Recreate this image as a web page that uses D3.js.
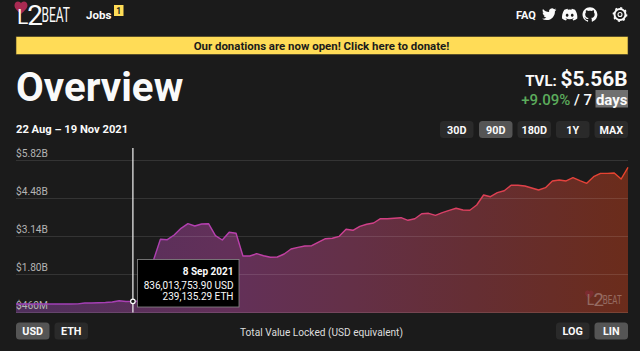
<!DOCTYPE html>
<html><head><meta charset="utf-8">
<script src="https://cdn.jsdelivr.net/npm/d3@7"></script>
<style>
html,body{margin:0;padding:0;background:#1b1b1b;overflow:hidden}
svg{display:block;font-family:Roboto,sans-serif}
text{fill:#fafafa}
</style></head><body><svg id="c" width="640" height="351"></svg>
<script>
// TVL in billions USD, one reading per day from 22 Aug 2021 to 19 Nov 2021
const tvl = [0.742,0.742,0.742,0.742,0.742,0.742,0.742,0.74,0.742,0.745,0.777,0.777,0.784,0.795,0.813,0.855,0.83,0.836,
0.848,1.412,2.294,3.024,3.01,3.175,3.41,3.574,3.493,3.563,3.574,3.151,3.0,3.27,3.235,2.435,2.435,2.516,2.445,2.389,2.4,2.505,
2.682,2.741,2.787,2.798,2.928,3.045,3.059,3.129,3.376,3.341,3.482,3.553,3.598,3.75,3.746,3.764,3.785,3.694,3.75,3.926,
3.94,3.87,3.962,4.046,4.117,4.057,4.046,4.233,4.586,4.526,4.667,4.737,4.928,4.928,4.903,4.833,4.762,4.843,5.08,5.115,
5.08,5.196,5.09,4.998,5.231,5.35,5.35,5.362,5.15,5.56];
const startDay = new Date(Date.UTC(2021,7,22));
const endDay = new Date(Date.UTC(2021,10,19));
const days = d3.utcDay.range(startDay, d3.utcDay.offset(endDay,1));
const yTicks = [0.46,1.80,3.14,4.48,5.82];
const yTickLabels = ["$460M","$1.80B","$3.14B","$4.48B","$5.82B"];
const rangeButtons = ["30D","90D","180D","1Y","MAX"];
const currencyButtons = ["USD","ETH"];
const scaleButtons = ["LOG","LIN"];
const hoverIndex = 17;
const tooltipLines = ["8 Sep 2021","836,013,753.90 USD","239,135.29 ETH"];

const svg = d3.select("#c");
const x = d3.scaleUtc().domain([startDay,endDay]).range([16,628]);
const y = d3.scaleLinear().domain([0.46,5.82]).range([312,160]);

const defs = svg.append("defs");
function grad(id,stops){
  const g = defs.append("linearGradient").attr("id",id).attr("gradientUnits","userSpaceOnUse")
    .attr("x1",16).attr("x2",628).attr("y1",0).attr("y2",0);
  stops.forEach(s=>g.append("stop").attr("offset",s[0]).attr("stop-color",s[1]));
}
grad("lineG",[[0,"#9a3fb8"],[0.35,"#b83fae"],[0.55,"#cf4090"],[0.75,"#dc3f58"],[1,"#e8432a"]]);
grad("areaG",[[0,"#4f2f5c"],[0.35,"#633059"],[0.55,"#643047"],[0.75,"#652e33"],[1,"#6b2c1b"]]);

// logo: heart, then L2 and BEAT
function logo(g,op){
  g.attr("opacity",op);
  g.append("path").attr("transform","translate(14.5,1.5) scale(0.54)")
   .attr("d","M12 23 C5 17 0 13 0 7 C0 3 3 0 6.5 0 C9 0 11 1.3 12 3.2 C13 1.3 15 0 17.5 0 C21 0 24 3 24 7 C24 13 19 17 12 23Z")
   .attr("fill","#a82a52");
  const t = g.append("text").attr("x",17).attr("y",23.5).attr("font-weight",400);
  t.append("tspan").attr("font-size",21).text("L");
  t.append("tspan").attr("font-size",28).attr("y",24.5).attr("dx",-1).text("2");
  g.append("text").attr("transform","translate(41.5,22) scale(0.6,1)").attr("font-size",20).attr("font-weight",400).text("BEAT");
}
logo(svg.append("g"),1);

// nav
svg.append("text").attr("x",86).attr("y",18.5).attr("font-size",11.5).attr("font-weight",700).text("Jobs");
svg.append("rect").attr("x",114).attr("y",5).attr("width",9.5).attr("height",11).attr("fill","#ffdc57");
svg.append("text").attr("x",118.8).attr("y",14).attr("font-size",8.5).attr("font-weight",700).attr("text-anchor","middle").style("fill","#1b1b1b").text("1");
svg.append("text").attr("x",516).attr("y",18.5).attr("font-size",11).attr("font-weight",700).text("FAQ");
const icon=(d,tx,ty,s)=>svg.append("path").attr("transform",`translate(${tx},${ty}) scale(${s})`).attr("fill","#fafafa").attr("d",d);
icon("M23.953 4.57a10 10 0 01-2.825.775 4.958 4.958 0 002.163-2.723c-.951.555-2.005.959-3.127 1.184a4.92 4.92 0 00-8.384 4.482C7.69 8.095 4.067 6.13 1.64 3.162a4.822 4.822 0 00-.666 2.475c0 1.71.87 3.213 2.188 4.096a4.904 4.904 0 01-2.228-.616v.06a4.923 4.923 0 003.946 4.827 4.996 4.996 0 01-2.212.085 4.936 4.936 0 004.604 3.417 9.867 9.867 0 01-6.102 2.105c-.39 0-.779-.023-1.17-.067a13.995 13.995 0 007.557 2.209c9.053 0 13.998-7.496 13.998-13.985 0-.21 0-.42-.015-.63A9.935 9.935 0 0024 4.59z",542,7,0.6);
icon("M20.317 4.37a19.791 19.791 0 00-4.885-1.515.074.074 0 00-.079.037c-.21.375-.444.864-.608 1.25a18.27 18.27 0 00-5.487 0 12.64 12.64 0 00-.617-1.25.077.077 0 00-.079-.037A19.736 19.736 0 003.677 4.37a.07.07 0 00-.032.027C.533 9.046-.32 13.58.099 18.057a.082.082 0 00.031.057 19.9 19.9 0 005.993 3.03.078.078 0 00.084-.028c.462-.63.874-1.295 1.226-1.994a.076.076 0 00-.041-.106 13.107 13.107 0 01-1.872-.892.077.077 0 01-.008-.128 10.2 10.2 0 00.372-.292.074.074 0 01.077-.01c3.928 1.793 8.18 1.793 12.062 0a.074.074 0 01.078.01c.12.098.246.198.373.292a.077.077 0 01-.006.127 12.299 12.299 0 01-1.873.892.077.077 0 00-.041.107c.36.698.772 1.362 1.225 1.993a.076.076 0 00.084.028 19.839 19.839 0 006.002-3.03.077.077 0 00.032-.054c.5-5.177-.838-9.674-3.549-13.66a.061.061 0 00-.031-.03zM8.02 15.33c-1.183 0-2.157-1.085-2.157-2.419 0-1.333.956-2.419 2.157-2.419 1.21 0 2.176 1.096 2.157 2.42 0 1.333-.956 2.418-2.157 2.418zm7.975 0c-1.183 0-2.157-1.085-2.157-2.419 0-1.333.955-2.419 2.157-2.419 1.21 0 2.176 1.096 2.157 2.42 0 1.333-.946 2.418-2.157 2.418Z",562,7,0.64);
icon("M12 .297c-6.63 0-12 5.373-12 12 0 5.303 3.438 9.8 8.205 11.385.6.113.82-.258.82-.577 0-.285-.01-1.04-.015-2.04-3.338.724-4.042-1.61-4.042-1.61C4.422 18.07 3.633 17.7 3.633 17.7c-1.087-.744.084-.729.084-.729 1.205.084 1.838 1.236 1.838 1.236 1.07 1.835 2.809 1.305 3.495.998.108-.776.417-1.305.76-1.605-2.665-.3-5.466-1.332-5.466-5.93 0-1.31.465-2.38 1.235-3.22-.135-.303-.54-1.523.105-3.176 0 0 1.005-.322 3.3 1.23.96-.267 1.98-.399 3-.405 1.02.006 2.04.138 3 .405 2.28-1.552 3.285-1.23 3.285-1.23.645 1.653.24 2.873.12 3.176.765.84 1.23 1.91 1.23 3.22 0 4.61-2.805 5.625-5.475 5.92.42.36.81 1.096.81 2.22 0 1.606-.015 2.896-.015 3.286 0 .315.21.69.825.57C20.565 22.092 24 17.592 24 12.297c0-6.627-5.373-12-12-12",582.5,7,0.62);
svg.append("circle").attr("cx",620).attr("cy",14.5).attr("r",5.5).attr("fill","none").attr("stroke","#fafafa").attr("stroke-width",2);
svg.append("circle").attr("cx",620).attr("cy",14.5).attr("r",6.6).attr("fill","none").attr("stroke","#fafafa").attr("stroke-width",1.6).attr("stroke-dasharray","2 3.18");
svg.append("circle").attr("cx",620).attr("cy",14.5).attr("r",2).attr("fill","none").attr("stroke","#fafafa").attr("stroke-width",1.1);

// banner
svg.append("rect").attr("x",16).attr("y",36.5).attr("width",612).attr("height",18).attr("fill","#ffdc57").attr("stroke","#3a3520").attr("stroke-width",0.6);
svg.append("text").attr("x",321.5).attr("y",49.5).attr("font-size",11.45).attr("font-weight",700).attr("text-anchor","middle").style("fill","#1b1b1b").text("Our donations are now open! Click here to donate!");

// header
svg.append("text").attr("x",16).attr("y",101).attr("font-size",40.3).attr("font-weight",700).text("Overview");
const tvlT = svg.append("text").attr("x",627.5).attr("y",86).attr("text-anchor","end").attr("font-weight",700);
tvlT.append("tspan").attr("font-size",15).text("TVL: ");
tvlT.append("tspan").attr("font-size",20.8).text("$5.56B");
svg.append("rect").attr("x",595.5).attr("y",90).attr("width",32.5).attr("height",17.5).attr("fill","#707070");
const ch = svg.append("text").attr("x",627.5).attr("y",104.5).attr("text-anchor","end").attr("font-size",15).attr("font-weight",500);
ch.append("tspan").style("fill","#5cab5c").text("+9.09%");
ch.append("tspan").text(" / 7 ");
ch.append("tspan").attr("font-weight",700).text("days");
svg.append("text").attr("x",16).attr("y",133).attr("font-size",11.2).attr("font-weight",700).text("22 Aug – 19 Nov 2021");

// buttons
function buttons(labels,xs,w,top,active){
  labels.forEach((l,i)=>{
    svg.append("rect").attr("x",xs[i]).attr("y",top).attr("width",w).attr("height",17).attr("rx",3.5)
      .attr("fill",l===active?"#555555":"#2a2a2a");
    svg.append("text").attr("x",xs[i]+w/2).attr("y",top+12.6).attr("text-anchor","middle")
      .attr("font-size",10.8).attr("font-weight",700).text(l);
  });
}
buttons(rangeButtons,[440,479,517.5,556,594.5],33.5,121,"90D");
buttons(currencyButtons,[16,54.5],33.5,322.5,"USD");
buttons(scaleButtons,[556,594.5],33.5,322.5,"LIN");
svg.append("text").attr("x",321.5).attr("y",335.5).attr("text-anchor","middle").attr("font-size",10.15).style("fill","#dddddd").text("Total Value Locked (USD equivalent)");

// chart
const area = d3.area().x((d,i)=>x(days[i])).y0(y(0.46)+1).y1(d=>y(d));
const line = d3.line().x((d,i)=>x(days[i])).y(d=>y(d));
svg.append("path").datum(tvl).attr("d",area).attr("fill","url(#areaG)");

const axis = d3.axisRight(y).tickValues(yTicks).tickSize(612)
  .tickFormat((d,i)=>yTickLabels[i]);
const ag = svg.append("g").attr("transform","translate(16,0)").call(axis);
ag.select(".domain").remove();
ag.selectAll(".tick line").attr("stroke","#ffffff").attr("stroke-opacity",0.11).attr("stroke-width",1);
ag.selectAll(".tick text").attr("x",0).attr("dy",0).attr("y",-3.5).attr("text-anchor","start")
  .attr("font-size",10.2).attr("font-family","Roboto").style("fill","#b4b4b4");

svg.append("path").datum(tvl).attr("d",line).attr("fill","none").attr("stroke","url(#lineG)").attr("stroke-width",1.4).attr("stroke-linejoin","round");

// watermark
logo(svg.append("g").attr("transform","translate(585,290.5) scale(0.66) translate(-14.5,-1.5)"),0.3);

// hover
const hx = x(days[hoverIndex]), hy = y(tvl[hoverIndex]);
svg.append("line").attr("x1",hx).attr("x2",hx).attr("y1",148).attr("y2",312.5).attr("stroke","#f4f4f4").attr("stroke-width",1.2);
svg.append("circle").attr("cx",hx).attr("cy",hy).attr("r",2.3).attr("fill","#111").attr("stroke","#fff").attr("stroke-width",1.2);
svg.append("rect").attr("x",137.5).attr("y",259.5).attr("width",101.5).attr("height",47.5).attr("fill","#000").attr("stroke","#8a8a8a").attr("stroke-width",0.8);
tooltipLines.forEach((t,i)=>{
  svg.append("text").attr("x",233.5).attr("y",[274.5,288.5,300][i]).attr("text-anchor","end")
    .attr("font-size",10).attr("font-weight",i===0?700:400).text(t);
});
</script></body></html>
